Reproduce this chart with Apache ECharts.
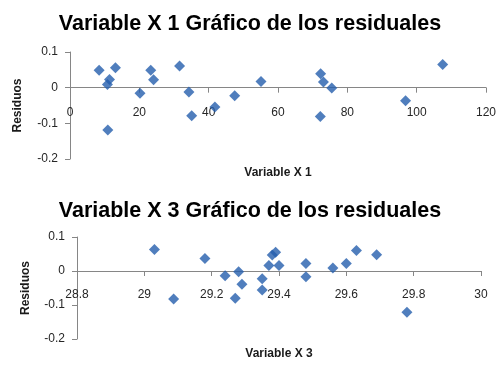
<!DOCTYPE html>
<html>
<head>
<meta charset="utf-8">
<script src="https://cdn.jsdelivr.net/npm/echarts@6/dist/echarts.min.js"></script>
<style>
html,body{margin:0;padding:0;background:#fff;}
#chart{width:500px;height:370px;}
</style>
</head>
<body>
<div id="chart"></div>
<script>
// Chart 1: Variable X 1 residuals
var x1Values = [8.4, 10.8, 11.4, 13.1, 10.9, 20.2, 23.3, 24.1, 31.6, 34.3, 35.1, 41.8, 47.5, 55.1, 72.3, 73.1, 75.5, 72.2, 96.8, 107.5];
var x1Residuals = [0.049, 0.009, 0.023, 0.056, -0.119, -0.016, 0.049, 0.022, 0.061, -0.012, -0.079, -0.054, -0.023, 0.017, 0.039, 0.016, -0.001, -0.081, -0.037, 0.065];
// Chart 2: Variable X 3 residuals
var x3Values = [29.03, 29.087, 29.18, 29.24, 29.28, 29.27, 29.29, 29.35, 29.35, 29.37, 29.38, 29.39, 29.40, 29.48, 29.48, 29.56, 29.60, 29.63, 29.69, 29.78];
var x3Residuals = [0.063, -0.082, 0.037, -0.014, -0.002, -0.080, -0.039, -0.023, -0.056, 0.016, 0.047, 0.055, 0.016, 0.022, -0.017, 0.009, 0.022, 0.060, 0.048, -0.121];

var titles = ['Variable X 1 Gráfico de los residuales', 'Variable X 3 Gráfico de los residuales'];
var xNames = ['Variable X 1', 'Variable X 3'];
var yName = 'Residuos';

function pairs(xs, ys){ return xs.map(function(x,i){ return [x, ys[i]]; }); }

var axisLineStyle = {color:'#868686', width:1};
var labelStyle = {color:'#262626', fontSize:12, fontFamily:'Liberation Sans, Arial, sans-serif'};
var nameStyle = {color:'#1a1a1a', fontSize:12, fontWeight:'bold', fontFamily:'Liberation Sans, Arial, sans-serif'};
var titleStyle = {fontSize:21.5, fontWeight:'bold', color:'#000', fontFamily:'Liberation Sans, Arial, sans-serif'};

var chart = echarts.init(document.getElementById('chart'), null, {renderer:'canvas'});
chart.setOption({
  animation:false,
  backgroundColor:'#fff',
  title:[
    {text:titles[0], left:'center', top:8, textStyle:titleStyle},
    {text:titles[1], left:'center', top:195, textStyle:titleStyle}
  ],
  grid:[
    {left:70, top:52, width:416, height:107, outerBoundsMode:'none', containLabel:false},
    {left:77, top:237, width:404, height:102, outerBoundsMode:'none', containLabel:false}
  ],
  xAxis:[
    {gridIndex:0, type:'value', min:0, max:120, interval:20,
     name:xNames[0], nameLocation:'middle', nameGap:8, nameTextStyle:nameStyle,
     axisLine:{onZero:true, lineStyle:axisLineStyle},
     axisTick:{show:true, length:5, lineStyle:axisLineStyle},
     axisLabel:Object.assign({margin:-52}, labelStyle),
     splitLine:{show:false}},
    {gridIndex:1, type:'value', min:28.8, max:30, interval:0.2,
     name:xNames[1], nameLocation:'middle', nameGap:9, nameTextStyle:nameStyle,
     axisLine:{onZero:true, lineStyle:axisLineStyle},
     axisTick:{show:true, length:5, lineStyle:axisLineStyle},
     axisLabel:Object.assign({margin:-50}, labelStyle),
     splitLine:{show:false}}
  ],
  yAxis:[
    {gridIndex:0, type:'value', min:-0.2, max:0.1, interval:0.1,
     name:yName, nameLocation:'middle', nameGap:46, nameRotate:90, nameTextStyle:nameStyle,
     axisLine:{show:true, onZero:false, lineStyle:axisLineStyle},
     axisTick:{show:true, length:5, lineStyle:axisLineStyle},
     axisLabel:Object.assign({margin:12}, labelStyle),
     splitLine:{show:false}},
    {gridIndex:1, type:'value', min:-0.2, max:0.1, interval:0.1,
     name:yName, nameLocation:'middle', nameGap:45, nameRotate:90, nameTextStyle:nameStyle,
     axisLine:{show:true, onZero:false, lineStyle:axisLineStyle},
     axisTick:{show:true, length:5, lineStyle:axisLineStyle},
     axisLabel:Object.assign({margin:12}, labelStyle),
     splitLine:{show:false}}
  ],
  series:[
    {type:'scatter', xAxisIndex:0, yAxisIndex:0, symbol:'diamond', symbolSize:11,
     itemStyle:{color:'#245EAC'}, data:pairs(x1Values, x1Residuals)},
    {type:'scatter', xAxisIndex:1, yAxisIndex:1, symbol:'diamond', symbolSize:11,
     itemStyle:{color:'#245EAC'}, data:pairs(x3Values, x3Residuals)}
  ]
});
</script>
</body>
</html>
